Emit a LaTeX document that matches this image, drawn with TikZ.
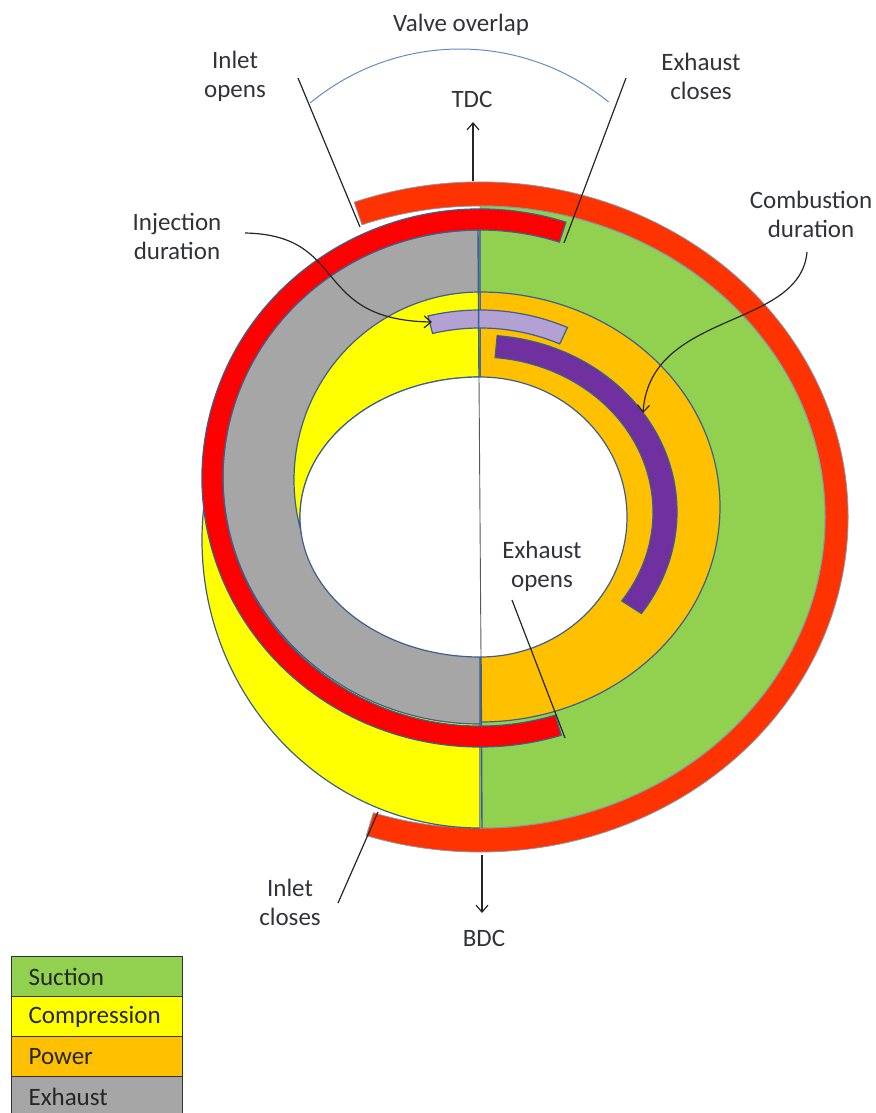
\documentclass[tikz,border=0pt]{standalone}
\usepackage{fontspec}
\setmainfont{Carlito}
\usetikzlibrary{arrows.meta,calc}
\definecolor{ringout}{RGB}{255,51,0}
\definecolor{ringin}{RGB}{255,0,0}
\definecolor{suction}{RGB}{146,208,80}
\definecolor{compr}{RGB}{255,255,0}
\definecolor{power}{RGB}{255,192,0}
\definecolor{exhc}{RGB}{166,166,166}
\definecolor{purp}{RGB}{112,48,160}
\definecolor{lav}{RGB}{178,161,210}
\definecolor{outl}{RGB}{60,95,140}
\definecolor{ringline}{RGB}{130,155,175}
\definecolor{arcblue}{RGB}{100,140,195}
\definecolor{txt}{RGB}{50,50,60}
\begin{document}
\begin{tikzpicture}[x=1pt,y=1pt,
  font=\fontsize{25}{29}\selectfont,
  lbl/.style={text=txt, inner sep=2pt},
  conn/.style={draw=black!85, line width=1.2pt},
  tip/.style={-{Straight Barb[length=7pt,width=12pt]}},
  band/.style={draw=outl, line width=1.2pt},
  legbox/.style={draw=black!80, line width=1.2pt, anchor=north west,
    minimum height=40pt, text width=137pt, inner xsep=17pt, align=left, text=black!85}]
\useasboundingbox (0,0) rectangle (875,-1113);

% outer ring (inlet valve open)
\path[fill=ringout, draw=ringline, line width=0.8pt]
  ($(480,-517)+(110:368 and 335)$) arc[start angle=110,end angle=-108,x radius=368,y radius=335]
  -- ($(480,-517)+(-108:345 and 311)$) arc[start angle=-108,end angle=110,x radius=345,y radius=311] -- cycle;
% big compression half (left)
\path[fill=compr, band] (480,-252) arc[start angle=90,end angle=270,x radius=278,y radius=288] -- cycle;
% suction half (right)
\path[fill=suction, draw=ringline, line width=1pt] (480,-206) arc[start angle=90,end angle=-90,x radius=345,y radius=311] -- cycle;
% power half (right)
\path[fill=power, band] (480,-292) arc[start angle=90,end angle=-90,x radius=240,y radius=215] -- cycle;
% exhaust half (left)
\path[fill=exhc, band] (480,-230) arc[start angle=90,end angle=270,x radius=257,y radius=247] -- cycle;
% inner compression crescent
\path[fill=compr, band] (480,-292) arc[start angle=90,end angle=197,x radius=186,y radius=188]
  -- ($(480,-517)+(187:180 and 140)$) arc[start angle=187,end angle=90,x radius=180,y radius=140] -- cycle;
% white centre
\path[fill=white, band] (480,-377) arc[start angle=90,end angle=270,x radius=180,y radius=140]
  arc[start angle=270,end angle=450,x radius=147,y radius=140] -- cycle;
% injection duration
\path[fill=lav, band]
  ($(480,-512)+(104:215 and 202)$) arc[start angle=104,end angle=66,x radius=215,y radius=202]
  -- ($(480,-512)+(66:196 and 184)$) arc[start angle=66,end angle=104,x radius=196,y radius=184] -- cycle;
% combustion duration
\path[fill=purp, band]
  ($(480,-512)+(85:197 and 177)$) arc[start angle=85,end angle=-35,x radius=197,y radius=177]
  -- ($(480,-512)+(-35:173 and 155)$) arc[start angle=-35,end angle=85,x radius=173,y radius=155] -- cycle;
% divider
\draw[outl, line width=1.4pt] (478,-230) -- (479,-377);
\draw[black!65, line width=0.9pt] (479,-377) -- (481,-657);
\draw[outl, line width=1.4pt] (481,-657) -- (482,-828);
% inner ring (exhaust valve open)
\path[fill=ringin, band]
  ($(480,-478)+(72:278 and 269)$) arc[start angle=72,end angle=287,x radius=278,y radius=269]
  -- ($(480,-478)+(287:257 and 248)$) arc[start angle=287,end angle=72,x radius=257,y radius=248] -- cycle;
% valve overlap arc
\draw[arcblue, line width=1pt] ($(460,-284)+(129.6:235)$) arc[start angle=129.6,end angle=50.8,radius=235];

% labels
\node[lbl] (vo) at (461,-25) {Valve overlap};
\node[lbl] (tdc) at (472,-99) {TDC};
\node[lbl] (bdc) at (484,-938) {BDC};
\node[lbl, align=center] (io) at (235,-76) {Inlet\\opens};
\node[lbl, align=center] (ec) at (701,-76) {Exhaust\\closes};
\node[lbl, align=center] (inj) at (177,-236) {Injection\\duration};
\node[lbl, align=center] (comb) at (811,-214) {Combustion\\duration};
\node[lbl, align=center] (eo) at (542,-566) {Exhaust\\opens};
\node[lbl, align=center] (ic) at (290,-902) {Inlet\\closes};

% connector end points
\coordinate (tdcA) at (473,-181);
\coordinate (tdcB) at (473,-122);
\coordinate (bdcA) at (482,-855);
\coordinate (bdcB) at (482,-913);
\coordinate (io1) at (298,-78);
\coordinate (io2) at (360,-227);
\coordinate (ec1) at (626,-78);
\coordinate (ec2) at (564,-243);
\coordinate (eo1) at (512,-600);
\coordinate (eo2) at (565,-738);
\coordinate (ic1) at (338,-903);
\coordinate (ic2) at (378,-812);
\coordinate (inj1) at (245,-233);
\coordinate (inj2) at (432,-322);
\coordinate (cb1) at (807,-252);
\coordinate (cb2) at (643,-413);

\draw[conn, tip] (tdcA) -- (tdcB);
\draw[conn, tip] (bdcA) -- (bdcB);
\draw[conn] (io1) -- (io2);
\draw[conn] (ec1) -- (ec2);
\draw[conn] (eo1) -- (eo2);
\draw[conn] (ic1) -- (ic2);
\draw[conn, tip] (inj1) .. controls (350,-235) and (310,-320) .. (inj2);
\draw[conn, tip] (cb1) .. controls (800,-330) and (650,-310) .. (cb2);

% legend
\node[legbox, fill=suction] (lg1) at (11,-956) {Suction};
\node[legbox, fill=compr] (lg2) at (11,-996) {Compression};
\node[legbox, fill=power] (lg3) at (11,-1036) {Power};
\node[legbox, fill=exhc] (lg4) at (11,-1076) {Exhaust};
\end{tikzpicture}
\end{document}
